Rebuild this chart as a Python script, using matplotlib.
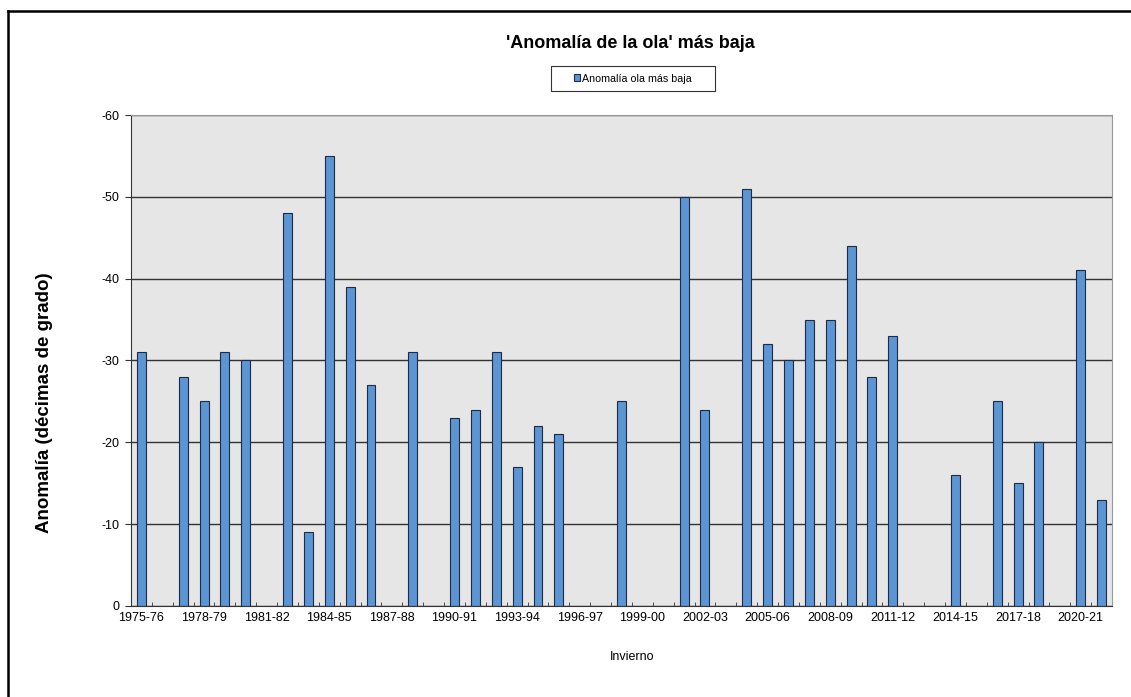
import numpy as np
import matplotlib
matplotlib.use("Agg")
import matplotlib.pyplot as plt
from matplotlib.lines import Line2D
from matplotlib.patches import Patch

plt.rcParams['font.family'] = ['Liberation Sans', 'DejaVu Sans']

# inviernos 1975-76 ... 2021-22
inviernos = [f"{a}-{str(a + 1)[-2:]}" for a in range(1975, 2022)]

# anomalía de la ola más baja (décimas de grado), None = sin ola
anomalia = [-31, None, -28, -25, -31, -30, None, -48, -9, -55,
            -39, -27, None, -31, None, -23, -24, -31, -17, -22,
            -21, None, None, -25, None, None, -50, -24, None, -51,
            -32, -30, -35, -35, -44, -28, -33, None, None, -16,
            None, -25, -15, -20, None, -41, -13]

x = np.arange(len(inviernos))
vals = np.array([np.nan if v is None else v for v in anomalia], dtype=float)

fig = plt.figure(figsize=(11.31, 6.97), dpi=100)
ax = fig.add_axes([0.1158, 0.1306, 0.9832 - 0.1158, 0.835 - 0.1306])
ax.set_facecolor('#e6e6e6')

ax.yaxis.grid(True, color='#333333', linewidth=1)
ax.set_axisbelow(True)
ax.bar(x, vals, width=0.43, color='#5b95d3', edgecolor='#1f2a44', linewidth=0.8,
       label='Anomalía ola más baja')

ax.set_xlim(-0.5, len(inviernos) - 0.5)
ax.set_ylim(0, -60)
ax.set_yticks(np.arange(0, -61, -10))
ax.set_yticklabels([str(int(v)) for v in np.arange(0, -61, -10)], fontsize=9)

ax.set_xticks(x[::3])
ax.set_xticklabels(inviernos[::3], fontsize=9)
ax.tick_params(axis='x', which='major', length=0, pad=4)
ax.set_xticks(np.arange(-0.5, len(inviernos)), minor=True)
ax.tick_params(axis='x', which='minor', direction='in', length=3, color='#333333')
ax.tick_params(axis='y', direction='out', length=4, color='#333333', pad=4)

for s in ['top', 'right']:
    ax.spines[s].set_color('#999999')
ax.spines['left'].set_color('#333333')
ax.spines['bottom'].set_color('#333333')

fig.text(630 / 1131, 1 - 43 / 697, "'Anomalía de la ola' más baja", ha='center', va='center',
         fontsize=13, fontweight='bold')
leg = fig.legend(handles=[Patch(facecolor='#5b95d3', edgecolor='#1f2a44', linewidth=0.8,
                                label='Anomalía ola más baja')],
                 loc='center', bbox_to_anchor=(633 / 1131, 1 - 78.5 / 697),
                 fontsize=7.7, frameon=True, fancybox=False, edgecolor='black',
                 handlelength=0.6, handleheight=0.6, handletextpad=0.2,
                 borderpad=0.7, borderaxespad=0)
leg.get_frame().set_linewidth(0.8)
leg._legend_box.set_width(150)

fig.text(45 / 1131, 1 - 403 / 697, 'Anomalía (décimas de grado)', rotation=90,
         ha='center', va='center', fontsize=13.5, fontweight='bold')
fig.text(632 / 1131, 1 - 657 / 697, 'Invierno', ha='center', va='center', fontsize=9)

# marco exterior (solo izquierda y arriba visibles)
fig.add_artist(Line2D([8 / 1131, 8 / 1131], [0, 1 - 11 / 697], transform=fig.transFigure,
                      color='black', linewidth=1.8))
fig.add_artist(Line2D([8 / 1131, 1], [1 - 11 / 697, 1 - 11 / 697], transform=fig.transFigure,
                      color='black', linewidth=1.8))

fig.savefig('out.png', dpi=100)
